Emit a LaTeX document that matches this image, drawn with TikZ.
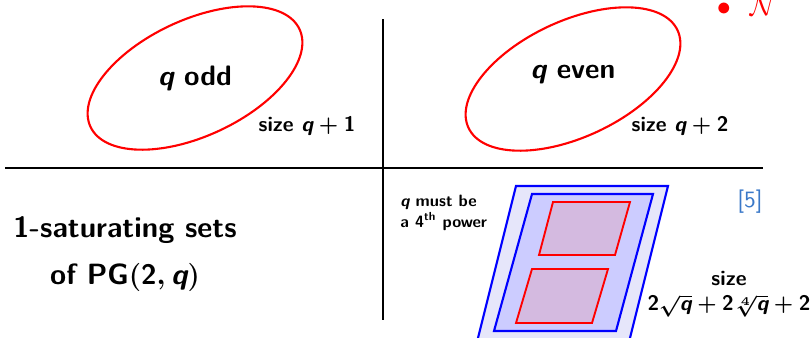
\documentclass[tikz,border=0pt]{standalone}
\usepackage{amsmath}
\usetikzlibrary{positioning}
\definecolor{citeblue}{HTML}{3A78C8}
\definecolor{outerfill}{HTML}{E6E6FA}
\definecolor{innerfill}{HTML}{CCCCFF}
\definecolor{setfill}{HTML}{D4BAE0}
\newcommand{\sfd}[1]{\mathsf{#1}}
\newcommand{\bq}{\text{\itshape q}}

\begin{document}
\begin{tikzpicture}[x=0.015cm,y=-0.015cm,font=\sffamily\bfseries\boldmath,
  axisline/.style={line width=0.9pt},
  oval/.style={red,line width=0.9pt},
  plane/.style={blue,line width=0.9pt},
  subset/.style={red,line width=0.8pt,fill=setfill}]
\useasboundingbox (0,0) rectangle (811,337);
% axes
\draw[axisline] (5,168) -- (763,168);
\draw[axisline] (383,19) -- (383,320);
% top left and top right
\draw[oval,rotate around={25:(195,78)}] (195,78) ellipse [x radius=1.73cm,y radius=0.87cm];
\draw[oval,rotate around={25:(573,79)}] (573,79) ellipse [x radius=1.73cm,y radius=0.87cm];
\node[font=\sffamily\bfseries\boldmath\large] (odd) at (195,78) {$\bq$ odd};
\node[font=\sffamily\bfseries\boldmath\large] (even) at (573,75) {$\bq$ even};
\node[font=\sffamily\bfseries\boldmath\small] (sizeodd) at (307,126) {size $\bq+\sfd{1}$};
\node[font=\sffamily\bfseries\boldmath\small] (sizeeven) at (680,126) {size $\bq+\sfd{2}$};
\node[red,font=\large] (nbul) at (747,6) {$\bullet$\hspace{8pt}$\mathcal{N}$};
% bottom left
\node[font=\sffamily\bfseries\boldmath\fontsize{12.5}{15}\selectfont,align=center] (title) at (125,254)
  {1-saturating sets\\[5pt]of PG$(\sfd{2},\bq)$};
% bottom right
\draw[plane,fill=outerfill] (516,186) -- (668,186) -- (627,350) -- (475,350) -- cycle;
\draw[plane,fill=innerfill] (532,194) -- (653,194) -- (616,331) -- (494,331) -- cycle;
\draw[subset] (553,202) -- (630,202) -- (615,255) -- (539,255) -- cycle;
\draw[subset] (532,269) -- (608,269) -- (592,323) -- (516,323) -- cycle;
\node[font=\sffamily\bfseries\boldmath\fontsize{7}{7.8}\selectfont,align=left,anchor=north west,inner sep=0pt] (power) at (400,195)
  {$\bq$ must be\\a 4$^{\text{th}}$ power};
\node[citeblue,font=\sffamily] (cite) at (750,202) {[5]};
\node[font=\sffamily\bfseries\boldmath\small,align=center] (sizepow) at (729,294)
  {size\\$\sfd{2}\sqrt{\bq}+\sfd{2}\sqrt[4]{\bq}+\sfd{2}$};
\end{tikzpicture}
\end{document}
